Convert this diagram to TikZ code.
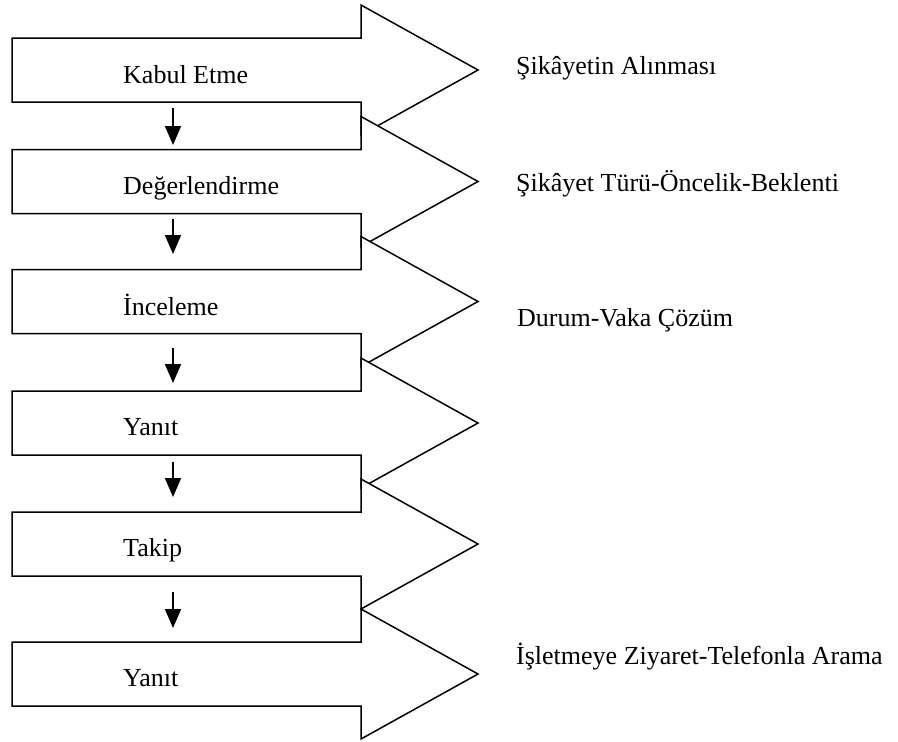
\documentclass[tikz,border=0pt]{standalone}
\usepackage{fontspec}
\setmainfont{Liberation Serif}
\usetikzlibrary{arrows.meta}
\newcommand\BigArrow[2]{%
  \filldraw[bigarr] (12,{#2-32}) -- (361,{#2-32}) -- (361,{#2-65}) -- (478,#2)
    -- (361,{#2+65}) -- (361,{#2+32}) -- (12,{#2+32}) -- cycle;
  \coordinate (#1) at (245,#2);}
\begin{document}
\begin{tikzpicture}[x=1pt,y=-1pt,
  bigarr/.style={draw=black,fill=white,line width=1.5pt,line join=miter},
  lbl/.style={anchor=base west,inner sep=0pt,font=\fontsize{26}{30}\selectfont},
  flow/.style={draw=black,line width=1.8pt,-{Triangle[length=19pt,width=16pt]}}]
\useasboundingbox (0,0) rectangle (898,742);
% big arrows with their labels
\BigArrow{A1}{70}
\node[lbl] (t1) at (123,83) {Kabul Etme};
\BigArrow{A2}{181.5}
\node[lbl] (t2) at (123,194) {Değerlendirme};
\BigArrow{A3}{301.5}
\node[lbl] (t3) at (123,315) {İnceleme};
\BigArrow{A4}{423}
\node[lbl] (t4) at (123,435) {Yanıt};
\BigArrow{A5}{544}
\node[lbl] (t5) at (123,556) {Takip};
\BigArrow{A6}{674}
\node[lbl] (t6) at (123,686) {Yanıt};
% right-hand texts
\node[lbl] (r1) at (516,74) {Şikâyetin Alınması};
\node[lbl] (r2) at (516,191) {Şikâyet Türü-Öncelik-Beklenti};
\node[lbl] (r3) at (517,326) {Durum-Vaka Çözüm};
\node[lbl] (r6) at (516,664) {İşletmeye Ziyaret-Telefonla Arama};
% small flow arrows
\coordinate (s1) at (173,108); \coordinate (e1) at (173,145);
\coordinate (s2) at (173,219); \coordinate (e2) at (173,254);
\coordinate (s3) at (173,348); \coordinate (e3) at (173,383);
\coordinate (s4) at (173,462); \coordinate (e4) at (173,497);
\coordinate (s5) at (173,592); \coordinate (e5) at (173,628);
\draw[flow] (s1) -- (e1);
\draw[flow] (s2) -- (e2);
\draw[flow] (s3) -- (e3);
\draw[flow] (s4) -- (e4);
\draw[flow] (s5) -- (e5);
\end{tikzpicture}
\end{document}
